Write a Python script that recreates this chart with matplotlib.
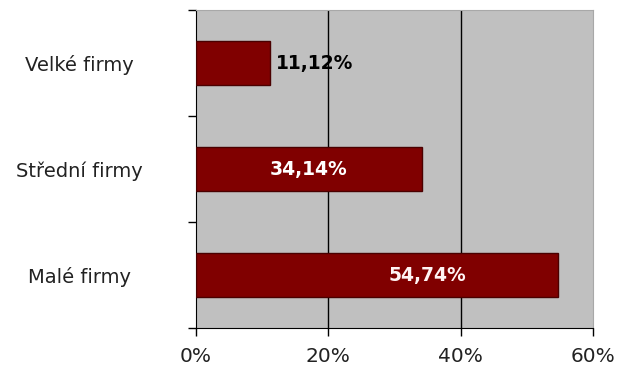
import matplotlib.pyplot as plt
from matplotlib import font_manager
import numpy as np

categories = ["Malé firmy", "Střední firmy", "Velké firmy"]
values = [54.74, 34.14, 11.12]
labels = ["54,74%", "34,14%", "11,12%"]
xticks = [0, 20, 40, 60]
xtick_labels = ["0%", "20%", "40%", "60%"]

# narrow bold font for the bar labels, if there is one
narrow = "DejaVu Sans"
for fam in ["Liberation Sans Narrow", "DejaVu Sans Condensed"]:
    try:
        font_manager.findfont(fam, fallback_to_default=False)
        narrow = fam
        break
    except ValueError:
        pass
lab_size = 16 if narrow != "DejaVu Sans" else 13.5

fig = plt.figure(figsize=(6.19, 3.81), dpi=100)
ax = fig.add_axes([196 / 619, 1 - 328 / 381, 397 / 619, 318 / 381])
ax.set_facecolor("#c0c0c0")

y = np.arange(len(categories))
ax.barh(y, values, height=0.41, color="#800000", edgecolor="#4a0000", linewidth=1, zorder=3)

ax.set_xlim(0, 60)
ax.set_ylim(-0.5, len(categories) - 0.5)

for t in xticks[1:-1]:
    ax.axvline(t, color="black", linewidth=1, zorder=2)

ax.text(values[2] + 0.9, y[2], labels[2], ha="left", va="center", family=narrow,
        fontsize=lab_size, fontweight="bold", color="black", zorder=4)
ax.text(values[1] / 2, y[1], labels[1], ha="center", va="center", family=narrow,
        fontsize=lab_size, fontweight="bold", color="white", zorder=4)
ax.text(values[0] * 0.64, y[0], labels[0], ha="center", va="center", family=narrow,
        fontsize=lab_size, fontweight="bold", color="#fff4f4", zorder=4)

ax.set_xticks(xticks)
ax.set_xticklabels(xtick_labels, fontsize=14.5, color="#222222")
ax.tick_params(axis="x", direction="out", length=6, width=1, pad=8)

ax.set_yticks(np.arange(len(categories) + 1) - 0.5)
ax.set_yticklabels([])
ax.tick_params(axis="y", which="major", direction="out", length=6, width=1)
ax.set_yticks(y, minor=True)
ax.set_yticklabels(categories, minor=True, fontsize=14, color="#222222", ha="center")
ax.tick_params(axis="y", which="minor", length=0, pad=84)
for lbl in ax.get_yticklabels(minor=True):
    lbl.set_y(lbl.get_position()[1])

ax.spines["left"].set_color("black")
ax.spines["bottom"].set_color("black")
ax.spines["top"].set_color("#a8a8a8")
ax.spines["right"].set_color("#a8a8a8")

fig.savefig("out.png", dpi=100)
